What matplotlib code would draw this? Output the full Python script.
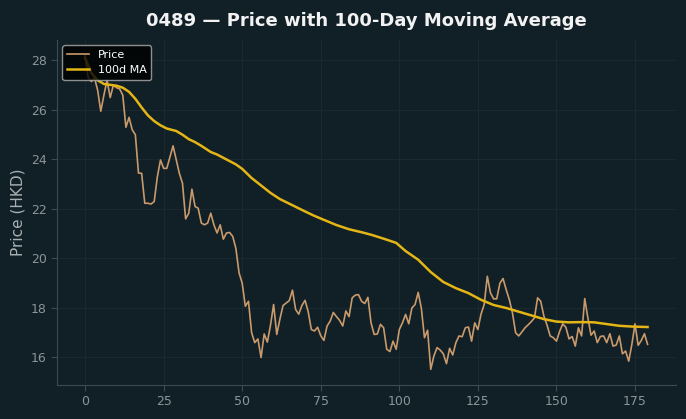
import numpy as np
import matplotlib
matplotlib.use("Agg")
import matplotlib.pyplot as plt

# daily closing prices (day 0..179)
price = [
    28.2, 27.3, 27.15, 27.3, 26.8, 25.95, 26.6, 27.2, 26.5, 27.0,
    26.9, 26.85, 26.6, 25.3, 25.7, 25.2, 25.0, 23.45, 23.44, 22.23,
    22.23, 22.2, 22.3, 23.3, 23.98, 23.64, 23.64, 24.1, 24.55, 24.0,
    23.44, 23.04, 21.6, 21.83, 22.8, 22.1, 22.03, 21.43, 21.36, 21.43,
    21.83, 21.36, 21.03, 21.36, 20.78, 21.03, 21.05, 20.89, 20.4, 19.42,
    19.0, 18.07, 18.27, 17.0, 16.6, 16.75, 16.0, 16.95, 16.62, 17.3,
    18.14, 16.93, 17.55, 18.1, 18.2, 18.3, 18.72, 17.94, 17.75, 18.1,
    18.31, 17.85, 17.13, 17.07, 17.22, 16.88, 16.69, 17.27, 17.47, 17.82,
    17.65, 17.5, 17.27, 17.88, 17.65, 18.41, 18.52, 18.54, 18.27, 18.18,
    18.43, 17.4, 16.93, 16.95, 17.34, 17.2, 16.33, 16.24, 16.66, 16.33,
    17.13, 17.4, 17.74, 17.36, 18.0, 18.14, 18.63, 18.0, 16.8, 17.1,
    15.52, 16.06, 16.4, 16.3, 16.15, 15.75, 16.37, 16.1, 16.6, 16.87,
    16.84, 17.2, 17.23, 16.66, 17.4, 17.13, 17.75, 18.14, 19.28, 18.61,
    18.37, 18.37, 19.0, 19.19, 18.74, 18.34, 17.8, 17.0, 16.87, 17.03,
    17.2, 17.32, 17.45, 17.6, 18.41, 18.27, 17.67, 17.31, 16.87, 16.8,
    16.66, 17.05, 17.36, 17.22, 16.75, 16.85, 16.46, 17.2, 16.87, 18.38,
    17.6, 16.9, 17.07, 16.6, 16.85, 16.87, 16.6, 16.96, 16.46, 16.5,
    16.87, 16.15, 16.26, 15.85, 16.53, 17.36, 16.49, 16.69, 16.96, 16.53,
]
days = np.arange(len(price))

# 100-day moving average
ma_days = [0, 2, 4, 6, 10, 12, 14, 16, 18, 20, 22, 24, 26, 29, 31, 33, 35, 37,
           40, 42, 45, 48, 50, 53, 56, 59, 62, 66, 70, 73, 76, 80, 84, 88, 91,
           95, 99, 102, 106, 110, 114, 118, 122, 126, 130, 134, 138, 142, 146,
           150, 154, 158, 162, 166, 170, 174, 179]
ma_vals = [28.1, 27.5, 27.2, 27.05, 26.98, 26.9, 26.73, 26.45, 26.1, 25.78,
           25.55, 25.38, 25.25, 25.15, 25.0, 24.82, 24.7, 24.55, 24.3, 24.2,
           24.0, 23.8, 23.62, 23.25, 22.95, 22.65, 22.4, 22.15, 21.9, 21.72,
           21.56, 21.35, 21.18, 21.06, 20.96, 20.8, 20.63, 20.3, 19.95, 19.45,
           19.05, 18.8, 18.6, 18.33, 18.12, 18.0, 17.85, 17.7, 17.55, 17.45,
           17.42, 17.43, 17.42, 17.35, 17.28, 17.25, 17.23]

bg = "#111f26"
fig = plt.figure(figsize=(6.86, 4.19), dpi=100, facecolor=bg)
ax = fig.add_axes([0.083, 0.081, 0.902, 0.824], facecolor=bg)

ax.plot(days, price, color="#c99a6b", lw=1.2, label="Price")
ax.plot(ma_days, ma_vals, color="#e3b616", lw=1.8, label="100d MA")

ax.grid(True, color="#1b2a31", lw=0.7)
ax.set_axisbelow(True)
for s in ["top", "right"]:
    ax.spines[s].set_visible(False)
for s in ["left", "bottom"]:
    ax.spines[s].set_color("#3d4a50")
ax.tick_params(axis="both", colors="#3d4a50", labelcolor="#8c9599",
               labelsize=9, length=4)
ax.set_xticks([0, 25, 50, 75, 100, 125, 150, 175])
ax.set_yticks([16, 18, 20, 22, 24, 26, 28])

ax.set_ylabel("Price (HKD)", color="#a9b1b4", fontsize=11)
ax.set_title("0489 — Price with 100-Day Moving Average", color="#f2f2f2",
             fontsize=13, fontweight="bold", pad=10)

ax.legend(loc="upper left", fontsize=8, facecolor="black",
          edgecolor="#b0b0b0", labelcolor="white", framealpha=0.8)

fig.savefig("out.png", dpi=100, facecolor=bg)
